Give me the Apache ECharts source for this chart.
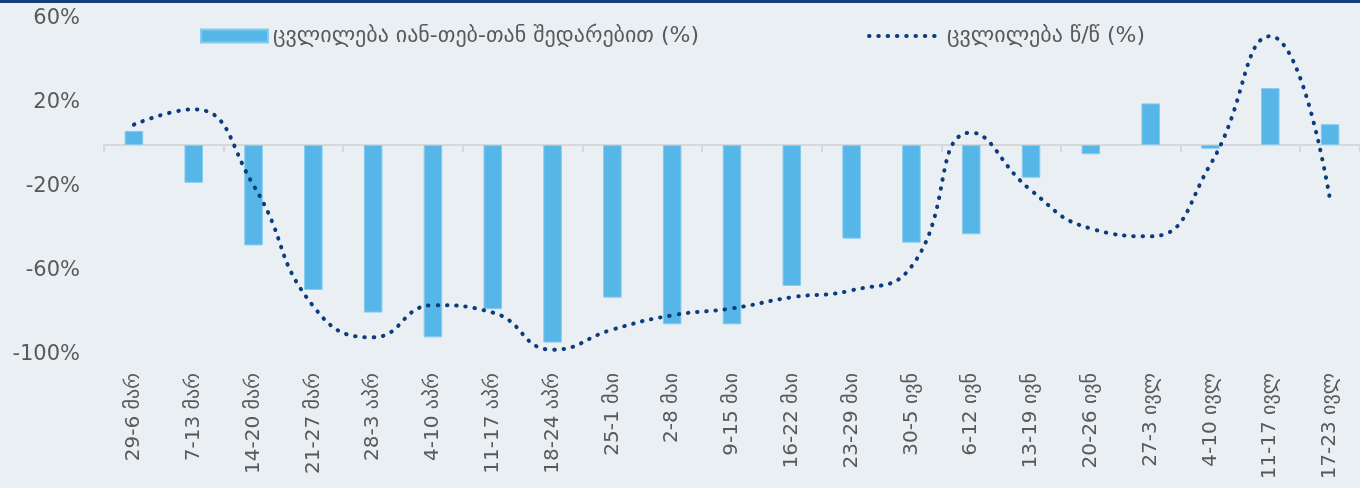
<!DOCTYPE html>
<html>
<head>
<meta charset="utf-8">
<script src="https://cdn.jsdelivr.net/npm/echarts@6/dist/echarts.min.js"></script>
<style>
  html, body { margin: 0; padding: 0; background: #e9eff3; }
  #chart { width: 1360px; height: 488px; }
</style>
</head>
<body>
<div id="chart"></div>
<script>
const categories = ['29-6 მარ', '7-13 მარ', '14-20 მარ', '21-27 მარ', '28-3 აპრ', '4-10 აპრ', '11-17 აპრ',
    '18-24 აპრ', '25-1 მაი', '2-8 მაი', '9-15 მაი', '16-22 მაი', '23-29 მაი', '30-5 ივნ', '6-12 ივნ',
    '13-19 ივნ', '20-26 ივნ', '27-3 ივლ', '4-10 ივლ', '11-17 ივლ', '17-23 ივლ'];

const barName = 'ცვლილება იან-თებ-თან შედარებით (%)';
const lineName = 'ცვლილება წ/წ (%)';

const barValues = [6.7, -18, -47.8, -69, -79.8, -91.6, -78.2, -94.1, -72.7, -85.4, -85.4,
    -67.1, -44.6, -46.5, -42.5, -15.6, -4.4, 19.8, -1.8, 27.1, 9.9];
const lineValues = [9.7, 17, -19.2, -76.8, -91.6, -76.3, -79.8, -97.5, -87.9, -81.1, -77.8,
    -72.5, -69.2, -57.9, 5.9, -21.6, -39.8, -43.5, -9.2, 51.8, -26.2];

const yLabelValues = [-100, -60, -20, 20, 60];

const textColor = '#595959';
const font = 'DejaVu Sans';
const dotted = [0.5, 8.8];

const chartDom = document.getElementById('chart');
const myChart = echarts.init(chartDom);

const option = {
    backgroundColor: '#e9eff3',
    animation: false,
    textStyle: { fontFamily: font },
    graphic: [
        {
            type: 'rect',
            left: 0,
            top: 0,
            shape: { width: 1360, height: 3 },
            style: { fill: '#123f7a' }
        }
    ],
    legend: [
        {
            data: [{ name: barName, icon: 'rect' }],
            left: 195,
            top: 20,
            itemWidth: 67,
            itemHeight: 13,
            textStyle: { fontSize: 22, color: textColor, fontFamily: font }
        },
        {
            data: [lineName],
            left: 862,
            top: 20,
            itemWidth: 73,
            itemHeight: 13,
            itemStyle: { opacity: 0 },
            lineStyle: { width: 4, type: dotted, cap: 'round', color: '#0b3c7d' },
            textStyle: { fontSize: 22, color: textColor, fontFamily: font }
        }
    ],
    grid: {
        left: 104,
        right: 0,
        top: 19,
        bottom: 133,
        containLabel: false
    },
    xAxis: [
        {
            type: 'category',
            data: categories,
            position: 'bottom',
            axisLine: { show: false, onZero: false },
            axisTick: { show: false },
            axisLabel: {
                rotate: 90,
                margin: 18,
                fontSize: 20,
                color: textColor,
                fontFamily: font,
                interval: 0
            }
        },
        {
            type: 'category',
            data: categories,
            position: 'bottom',
            axisLine: { show: true, onZero: true, lineStyle: { color: '#d6d8da', width: 2 } },
            axisTick: { show: true, length: 7, lineStyle: { color: '#d6d8da', width: 2 } },
            axisLabel: { show: false }
        }
    ],
    yAxis: {
        type: 'value',
        min: -100,
        max: 60,
        interval: 20,
        splitLine: { show: false },
        axisLine: { show: false },
        axisTick: { show: false },
        axisLabel: {
            margin: 24,
            fontSize: 21,
            color: textColor,
            fontFamily: font,
            formatter: function (v) {
                return yLabelValues.indexOf(v) >= 0 ? v + '%' : '';
            }
        }
    },
    series: [
        {
            name: barName,
            type: 'bar',
            data: barValues,
            barWidth: '31%',
            itemStyle: {
                color: '#56b6e8',
                borderColor: '#86cbee',
                borderWidth: 1
            }
        },
        {
            name: lineName,
            type: 'line',
            data: lineValues,
            smooth: true,
            symbol: 'none',
            lineStyle: {
                color: '#0b3c7d',
                width: 4,
                type: dotted,
                cap: 'round'
            },
            itemStyle: { color: '#0b3c7d' }
        }
    ]
};

myChart.setOption(option);

window.addEventListener('resize', () => {
    myChart.resize();
});
</script>
</body>
</html>
